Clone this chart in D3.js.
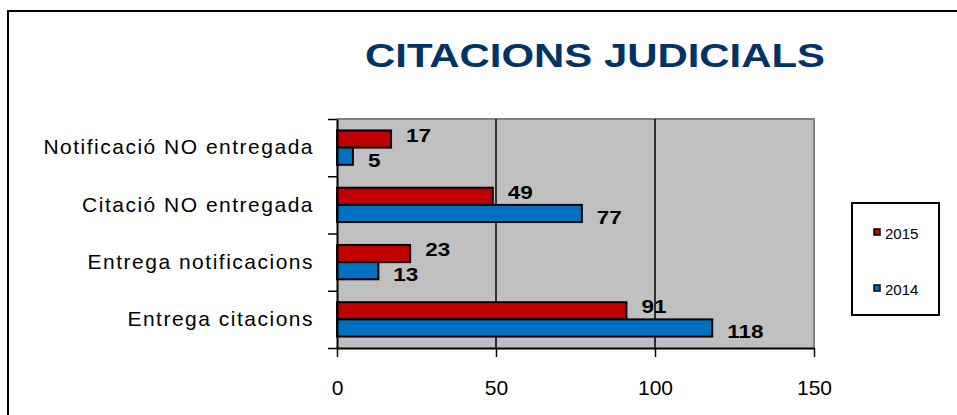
<!DOCTYPE html>
<html>
<head>
<meta charset="utf-8">
<script src="https://cdn.jsdelivr.net/npm/d3@7"></script>
<style>
  body { margin: 0; background: #fff; }
  text { font-family: "Liberation Sans", Arial, sans-serif; }
</style>
</head>
<body>
<svg width="957" height="415"></svg>
<script>
var categories = ["Notificació NO entregada", "Citació NO entregada", "Entrega notificacions", "Entrega citacions"];
var seriesNames = ["2015", "2014"];
var values2015 = [17, 49, 23, 91];
var values2014 = [5, 77, 13, 118];
var xTicks = [0, 50, 100, 150];
var colors = { "2015": "#c00000", "2014": "#0070c0" };

var svg = d3.select("svg"),
    plot = { left: 337, right: 814, top: 119, bottom: 348 };

var rows = categories.map(function(c, i) {
  return { cat: c, "2015": values2015[i], "2014": values2014[i] };
});

var x = d3.scaleLinear().domain([0, 150]).range([plot.left, plot.right]);
var y = d3.scaleBand().domain(categories).range([plot.top, plot.bottom])
    .paddingInner(0.4).paddingOuter(0.2);
var ySub = d3.scaleBand().domain(seriesNames).range([0, y.bandwidth()]);
var yEdge = d3.scaleLinear().domain([0, categories.length]).range([plot.bottom, plot.top]);

// outer frame
svg.append("rect")
    .attr("x", 8).attr("y", 11)
    .attr("width", 980).attr("height", 430)
    .style("fill", "none").style("stroke", "#000").style("stroke-width", 2);

// title (glyphs are stretched wide in the original)
svg.append("text")
    .attr("x", 365).attr("y", 67)
    .attr("textLength", 460).attr("lengthAdjust", "spacingAndGlyphs")
    .style("font-size", "34px").style("font-weight", "bold")
    .style("fill", "#003366")
    .text("CITACIONS JUDICIALS");

// plot background
svg.append("rect")
    .attr("x", plot.left).attr("y", plot.top)
    .attr("width", plot.right - plot.left).attr("height", plot.bottom - plot.top)
    .style("fill", "#c0c0c0");

svg.append("path")
    .attr("d", "M" + plot.left + "," + plot.top + "H" + plot.right + "V" + plot.bottom)
    .style("fill", "none").style("stroke", "#808080").style("stroke-width", 2);

// gridlines
svg.append("g")
  .selectAll("line")
  .data(xTicks.slice(1, -1))
  .enter().append("line")
    .attr("x1", function(d) { return x(d); })
    .attr("x2", function(d) { return x(d); })
    .attr("y1", plot.top).attr("y2", plot.bottom)
    .style("stroke", "#000").style("stroke-width", 1.5);

// bars
var groups = svg.append("g")
  .selectAll("g")
  .data(rows)
  .enter().append("g")
    .attr("transform", function(d) { return "translate(0," + y(d.cat) + ")"; });

groups.selectAll("rect")
  .data(function(d) { return seriesNames.map(function(s) { return { s: s, v: d[s] }; }); })
  .enter().append("rect")
    .attr("x", x(0))
    .attr("y", function(d) { return ySub(d.s); })
    .attr("width", function(d) { return x(d.v) - x(0); })
    .attr("height", ySub.bandwidth())
    .style("fill", function(d) { return colors[d.s]; })
    .style("stroke", "#000").style("stroke-width", 2);

groups.selectAll("text")
  .data(function(d) { return seriesNames.map(function(s) { return { s: s, v: d[s] }; }); })
  .enter().append("text")
    .attr("transform", function(d) {
      var ty = ySub(d.s) + ySub.bandwidth() / 2 + (d.s == "2015" ? -4 : 4);
      return "translate(" + (x(d.v) + 15) + "," + ty + ") scale(1.25,1)";
    })
    .attr("dy", "0.36em")
    .style("font-size", "18px").style("font-weight", "bold")
    .text(function(d) { return d.v; });

// y axis
var yAxisG = svg.append("g")
    .attr("transform", "translate(" + plot.left + ",0)")
    .call(d3.axisLeft(yEdge).ticks(categories.length).tickFormat("").tickSize(9).tickSizeOuter(0));
yAxisG.select(".domain").style("stroke-width", 2);
yAxisG.selectAll(".tick line").style("stroke-width", 1.5);

var yLabels = svg.append("g")
    .attr("transform", "translate(" + plot.left + ",0)")
    .call(d3.axisLeft(y).tickSize(0).tickPadding(23));
yLabels.select(".domain").remove();
yLabels.selectAll("text")
    .style("font-size", "21px").style("letter-spacing", "1.5px")
    .style("font-family", "'Liberation Sans', Arial, sans-serif")
    .style("fill", "#000");

// x axis
var xAxisG = svg.append("g")
    .attr("transform", "translate(0," + plot.bottom + ")")
    .call(d3.axisBottom(x).tickValues(xTicks).tickSize(9).tickSizeOuter(0).tickPadding(23));
xAxisG.select(".domain").style("stroke-width", 2);
xAxisG.selectAll(".tick line").style("stroke-width", 1.5);
xAxisG.selectAll("text")
    .style("font-size", "21px")
    .style("font-family", "'Liberation Sans', Arial, sans-serif")
    .style("fill", "#000");

// legend
var legend = svg.append("g");
legend.append("rect")
    .attr("x", 852).attr("y", 203).attr("width", 87).attr("height", 112)
    .style("fill", "#fff").style("stroke", "#000").style("stroke-width", 2);

var items = legend.selectAll("g.item")
  .data(seriesNames)
  .enter().append("g")
    .attr("class", "item")
    .attr("transform", function(d, i) { return "translate(874," + (229 + i * 56) + ")"; });

items.append("rect")
    .attr("width", 6).attr("height", 6)
    .style("fill", function(d) { return colors[d]; })
    .style("stroke", "#000").style("stroke-width", 1.5);

items.append("text")
    .attr("x", 11).attr("y", 10)
    .style("font-size", "15px")
    .text(function(d) { return d; });
</script>
</body>
</html>
